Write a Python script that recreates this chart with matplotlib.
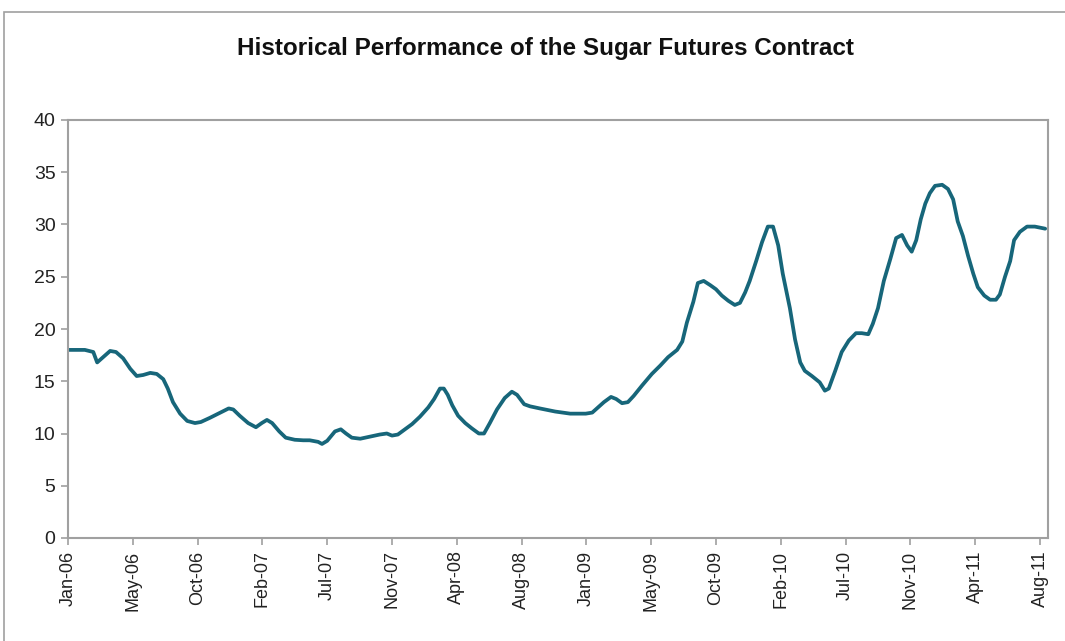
import numpy as np
import matplotlib
matplotlib.use('Agg')
import matplotlib.pyplot as plt
from matplotlib.patches import Rectangle

# tick labels, one per equally spaced category tick
tick_labels = ['Jan-06','May-06','Oct-06','Feb-07','Jul-07','Nov-07','Apr-08','Aug-08',
               'Jan-09','May-09','Oct-09','Feb-10','Jul-10','Nov-10','Apr-11','Aug-11']

# position along the axis, in tick units (0 = Jan-06, 15 = Aug-11)
pos = [0, 0.26, 0.39, 0.45, 0.54, 0.65, 0.74, 0.85, 0.96, 1.06, 1.16, 1.27, 1.37, 1.47,
       1.54, 1.62, 1.73, 1.84, 1.96, 2.05, 2.19, 2.35, 2.48, 2.55, 2.65, 2.78, 2.90, 2.99,
       3.07, 3.15, 3.26, 3.36, 3.50, 3.63, 3.73, 3.86, 3.92, 4.00, 4.12, 4.21, 4.29, 4.38,
       4.51, 4.66, 4.81, 4.92, 5.00, 5.09, 5.20, 5.31, 5.43, 5.56, 5.65, 5.74, 5.80, 5.86,
       5.93, 6.02, 6.13, 6.23, 6.34, 6.42, 6.51, 6.62, 6.74, 6.85, 6.93, 7.04, 7.13, 7.28,
       7.52, 7.75, 7.99, 8.09, 8.18, 8.27, 8.38, 8.46, 8.55, 8.64, 8.73, 8.86, 9.01, 9.14,
       9.26, 9.40, 9.48, 9.55, 9.65, 9.72, 9.81, 9.91, 10.00, 10.09, 10.19, 10.29, 10.37,
       10.45, 10.52, 10.62, 10.71, 10.80, 10.88, 10.96, 11.03, 11.14, 11.22, 11.30, 11.37,
       11.48, 11.60, 11.68, 11.74, 11.84, 11.94, 12.05, 12.16, 12.25, 12.35, 12.42, 12.50,
       12.59, 12.69, 12.78, 12.87, 12.95, 13.02, 13.09, 13.16, 13.23, 13.30, 13.38, 13.49,
       13.58, 13.66, 13.73, 13.81, 13.89, 13.97, 14.04, 14.14, 14.23, 14.32, 14.38, 14.46,
       14.54, 14.60, 14.69, 14.80, 14.92, 15.08]

# sugar futures price
price = [18.0, 18.0, 17.8, 16.8, 17.3, 17.9, 17.8, 17.2, 16.2, 15.5, 15.6, 15.8, 15.7, 15.2,
         14.3, 13.0, 11.9, 11.2, 11.0, 11.1, 11.5, 12.0, 12.4, 12.3, 11.7, 11.0, 10.6, 11.0,
         11.3, 11.0, 10.2, 9.6, 9.4, 9.35, 9.35, 9.2, 9.0, 9.3, 10.2, 10.4, 10.0, 9.6,
         9.5, 9.7, 9.9, 10.0, 9.8, 9.9, 10.4, 10.9, 11.6, 12.5, 13.3, 14.3, 14.3, 13.7,
         12.7, 11.7, 11.0, 10.5, 10.0, 10.0, 11.0, 12.3, 13.4, 14.0, 13.7, 12.8, 12.6, 12.4,
         12.1, 11.9, 11.9, 12.0, 12.5, 13.0, 13.5, 13.3, 12.9, 13.0, 13.6, 14.6, 15.7, 16.5,
         17.3, 18.0, 18.8, 20.6, 22.6, 24.4, 24.6, 24.2, 23.8, 23.2, 22.7, 22.3, 22.5,
         23.5, 24.6, 26.5, 28.3, 29.8, 29.8, 28.0, 25.3, 22.0, 19.0, 16.8, 16.0,
         15.5, 14.9, 14.1, 14.3, 16.0, 17.8, 18.9, 19.6, 19.6, 19.5, 20.5, 22.0,
         24.6, 26.7, 28.7, 29.0, 28.0, 27.4, 28.5, 30.5, 32.0, 33.0, 33.7, 33.8,
         33.4, 32.4, 30.3, 28.9, 27.0, 25.3, 24.0, 23.2, 22.8, 22.8, 23.3, 25.0,
         26.5, 28.5, 29.3, 29.8, 29.8, 29.6]

plt.rcParams['font.family'] = ['Liberation Sans', 'DejaVu Sans']

fig = plt.figure(figsize=(10.65, 6.41), dpi=100)
ax = fig.add_axes([68/1065., 1-538/641., (1048-68)/1065., (538-120)/641.])

# chart area border
fig.patches.append(Rectangle((4/1065., -0.1), 1.2, 1-12/641.+0.1, transform=fig.transFigure,
                             fill=False, edgecolor='#a0a0a0', linewidth=1.2))

ax.plot(pos, price, color='#17667a', linewidth=2.7, solid_joinstyle='round',
        solid_capstyle='round')

ax.set_xlim(0, (1048-68)/64.8)
ax.set_ylim(0, 40)
ax.set_yticks(np.arange(0, 41, 5))
ax.set_xticks(np.arange(len(tick_labels)))
ax.set_xticklabels(tick_labels, rotation=90)

for s in ax.spines.values():
    s.set_color('#a0a0a0')
    s.set_linewidth(1.5)
ax.tick_params(axis='both', colors='#a0a0a0', labelcolor='#222222',
               length=5, width=1.2, direction='out')
ax.tick_params(axis='y', labelsize=14, pad=4)
ax.tick_params(axis='x', labelsize=13, pad=4)

fig.text(545/1065., 1-48/641., 'Historical Performance of the Sugar Futures Contract',
         ha='center', va='center', fontsize=17.5, fontweight='bold', color='#111111')

plt.savefig('out.png', dpi=100)
plt.close()
